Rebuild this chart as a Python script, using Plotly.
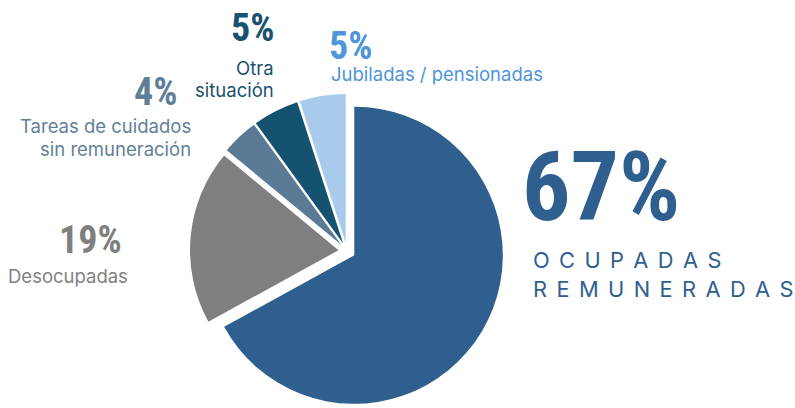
import plotly.graph_objects as go

W, H = 795, 408

categories = ["Ocupadas remuneradas", "Desocupadas", "Tareas de cuidados sin remuneración",
              "Otra situación", "Jubiladas / pensionadas"]
values = [67, 19, 4, 5, 5]
pct_labels = ["67%", "19%", "4%", "5%", "5%"]
slice_colors = ["#2E5F8F", "#7F7F7F", "#5B7A96", "#14526F", "#A9CBEB"]
text_colors = ["#2E5F8F", "#7F7F7F", "#5F7F98", "#1B5170", "#4E95D9"]

fig = go.Figure()
fig.add_trace(go.Pie(
    labels=categories, values=values, sort=False, direction="clockwise", rotation=0,
    marker=dict(colors=slice_colors, line=dict(width=0)),
    pull=[0.057] * len(values), textinfo="none", hoverinfo="skip",
    domain=dict(x=[190 / W, 504 / W], y=[0, 314 / H]), showlegend=False,
))

PCT_FONT = ("Noto Sans ExtraCondensed, Roboto Condensed, Noto Sans Condensed, "
            "Liberation Sans Narrow, DejaVu Sans Condensed, sans-serif")
LBL_FONT = "Inter, Roboto, sans-serif"


def px(x):
    return x / W


def py(y):
    return 1 - y / H


def ann(text, x, y, xanchor, size, color, family, align="left", weight="normal"):
    fig.add_annotation(text=text, x=px(x), y=py(y), xref="paper", yref="paper",
                       xanchor=xanchor, yanchor="middle", showarrow=False, align=align,
                       font=dict(size=size, color=color, family=family, weight=weight))


sp = "\u2005\u2009"
LS = 18.5
PS = 38
# 67% Ocupadas remuneradas
ann(pct_labels[0], 601, 187, "center", 96, text_colors[0], PCT_FONT, weight="bold")
ann(sp.join("OCUPADAS"), 531, 260, "left", 21.8, text_colors[0], LBL_FONT)
ann(sp.join("REMUNERADAS"), 531, 288.5, "left", 21.8, text_colors[0], LBL_FONT)
# 19% Desocupadas
ann(pct_labels[1], 90, 240, "center", PS, text_colors[1], PCT_FONT, weight="bold")
ann(categories[1], 67.5, 276, "center", LS, text_colors[1], LBL_FONT)
# 4% Tareas de cuidados
ann(pct_labels[2], 155, 92, "center", PS, text_colors[2], PCT_FONT, weight="bold")
ann("Tareas de cuidados", 193, 126, "right", LS, text_colors[2], LBL_FONT)
ann("sin remuneración", 193, 148.5, "right", LS, text_colors[2], LBL_FONT)
# 5% Otra situación
ann(pct_labels[3], 252, 28, "center", PS, text_colors[3], PCT_FONT, weight="bold")
ann("Otra", 276, 68.5, "right", LS, text_colors[3], LBL_FONT)
ann("situación", 276, 90, "right", LS, text_colors[3], LBL_FONT)
# 5% Jubiladas
ann(pct_labels[4], 350, 45.5, "center", PS, text_colors[4], PCT_FONT, weight="bold")
ann(categories[4], 329, 74, "left", LS, text_colors[4], LBL_FONT)

fig.update_layout(width=W, height=H, margin=dict(l=0, r=0, t=0, b=0),
                  paper_bgcolor="white", plot_bgcolor="white")
fig.write_html("out.html", config={"displayModeBar": False},
               post_script="document.body.style.margin='0';document.body.style.overflow='hidden';")
